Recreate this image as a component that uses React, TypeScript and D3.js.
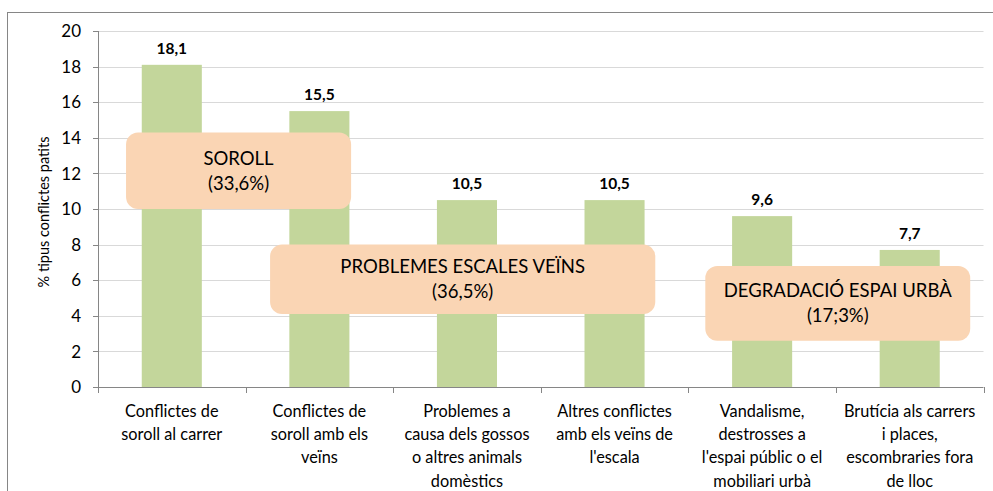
import React from "react";
import * as d3 from "d3";

const categories: string[][] = [
  ["Conflictes de", "soroll al carrer"],
  ["Conflictes de", "soroll amb els", "veïns"],
  ["Problemes a", "causa dels gossos", "o altres animals", "domèstics"],
  ["Altres conflictes", "amb els veïns de", "l'escala"],
  ["Vandalisme,", "destrosses a", "l'espai públic o el", "mobiliari urbà"],
  ["Brutícia als carrers", "i places,", "escombraries fora", "de lloc"],
];
const values: number[] = [18.1, 15.5, 10.5, 10.5, 9.6, 7.7];
const yTicks: number[] = [0, 2, 4, 6, 8, 10, 12, 14, 16, 18, 20];
const groupLabels: string[][] = [
  ["SOROLL", "(33,6%)"],
  ["PROBLEMES ESCALES VEÏNS", "(36,5%)"],
  ["DEGRADACIÓ ESPAI URBÀ", "(17;3%)"],
];
// box extents: [start in bands, end in bands, yTop value, yBottom value]
const groupBoxes: number[][] = [
  [0.19, 1.715, 14.3, 10.0],
  [1.166, 3.776, 8.0, 4.1],
  [4.115, 5.91, 6.8, 2.6],
];

const FONT = "Lato, 'Open Sans', sans-serif";

export default function App() {
  const W = 993, H = 491;
  const left = 98, right = 983.5, top = 31, bottom = 387;
  const x = d3.scaleBand<number>().domain(d3.range(values.length)).range([left, right]).paddingInner(0.593).paddingOuter(0.2965);
  const y = d3.scaleLinear().domain([0, 20]).range([bottom, top]);
  const step = x.step();
  const bandStart = (i: number) => left + i * step;
  const fmt = (v: number) => v.toFixed(1).replace(".", ",");

  return (
    <svg width={W} height={H} style={{ position: "absolute", left: 0, top: 0, fontFamily: FONT }}>
      <rect x={0} y={0} width={W} height={H} fill="#fff" />
      <rect x={7.5} y={12.5} width={W} height={H} fill="none" stroke="#868686" strokeWidth={1} />
      {yTicks.map((t) => (
        <g key={t}>
          {t > 0 && <line x1={left} x2={right} y1={Math.round(y(t)) + 0.5} y2={Math.round(y(t)) + 0.5} stroke="#d9d9d9" strokeWidth={1} />}
          <line x1={left - 5} x2={left} y1={Math.round(y(t)) + 0.5} y2={Math.round(y(t)) + 0.5} stroke="#868686" />
          <text x={left - 17} y={y(t)} dy="0.36em" textAnchor="end" fontSize={17} fill="#000">{t}</text>
        </g>
      ))}
      <line x1={left + 0.5} x2={left + 0.5} y1={top} y2={bottom} stroke="#868686" />
      <line x1={left} x2={right} y1={bottom + 0.5} y2={bottom + 0.5} stroke="#868686" />
      {d3.range(values.length + 1).map((i) => (
        <line key={i} x1={Math.round(bandStart(i)) + 0.5} x2={Math.round(bandStart(i)) + 0.5} y1={bottom} y2={bottom + 6} stroke="#868686" />
      ))}
      <text transform={`translate(49,212) rotate(-90)`} textAnchor="middle" fontSize={14.5} fill="#000">% tipus conflictes patits</text>
      {values.map((v, i) => (
        <g key={i}>
          <rect x={x(i)} y={y(v)} width={x.bandwidth()} height={bottom - y(v)} fill="#c3d69b" />
          <text x={(x(i) as number) + x.bandwidth() / 2} y={y(v) - 11} textAnchor="middle" fontSize={15.5} fontWeight="bold" fill="#000">{fmt(v)}</text>
        </g>
      ))}
      {categories.map((lines, i) => (
        <text key={i} textAnchor="middle" fontSize={16.3} fill="#000">
          {lines.map((l, j) => (
            <tspan key={j} x={bandStart(i) + step / 2} y={417 + j * 23.2}>{l}</tspan>
          ))}
        </text>
      ))}
      {groupBoxes.map((b, k) => {
        const x0 = bandStart(0) + b[0] * step;
        const x1 = bandStart(0) + b[1] * step;
        const y0 = y(b[2]);
        const y1 = y(b[3]);
        const cx = (x0 + x1) / 2;
        const cy = (y0 + y1) / 2;
        return (
          <g key={k}>
            <rect x={x0} y={y0} width={x1 - x0} height={y1 - y0} rx={12} ry={12} fill="#fad5b4" />
            <text textAnchor="middle" fontSize={18.5} fill="#000">
              <tspan x={cx} y={cy - 6}>{groupLabels[k][0]}</tspan>
              <tspan x={cx} y={cy + 19}>{groupLabels[k][1]}</tspan>
            </text>
          </g>
        );
      })}
    </svg>
  );
}
